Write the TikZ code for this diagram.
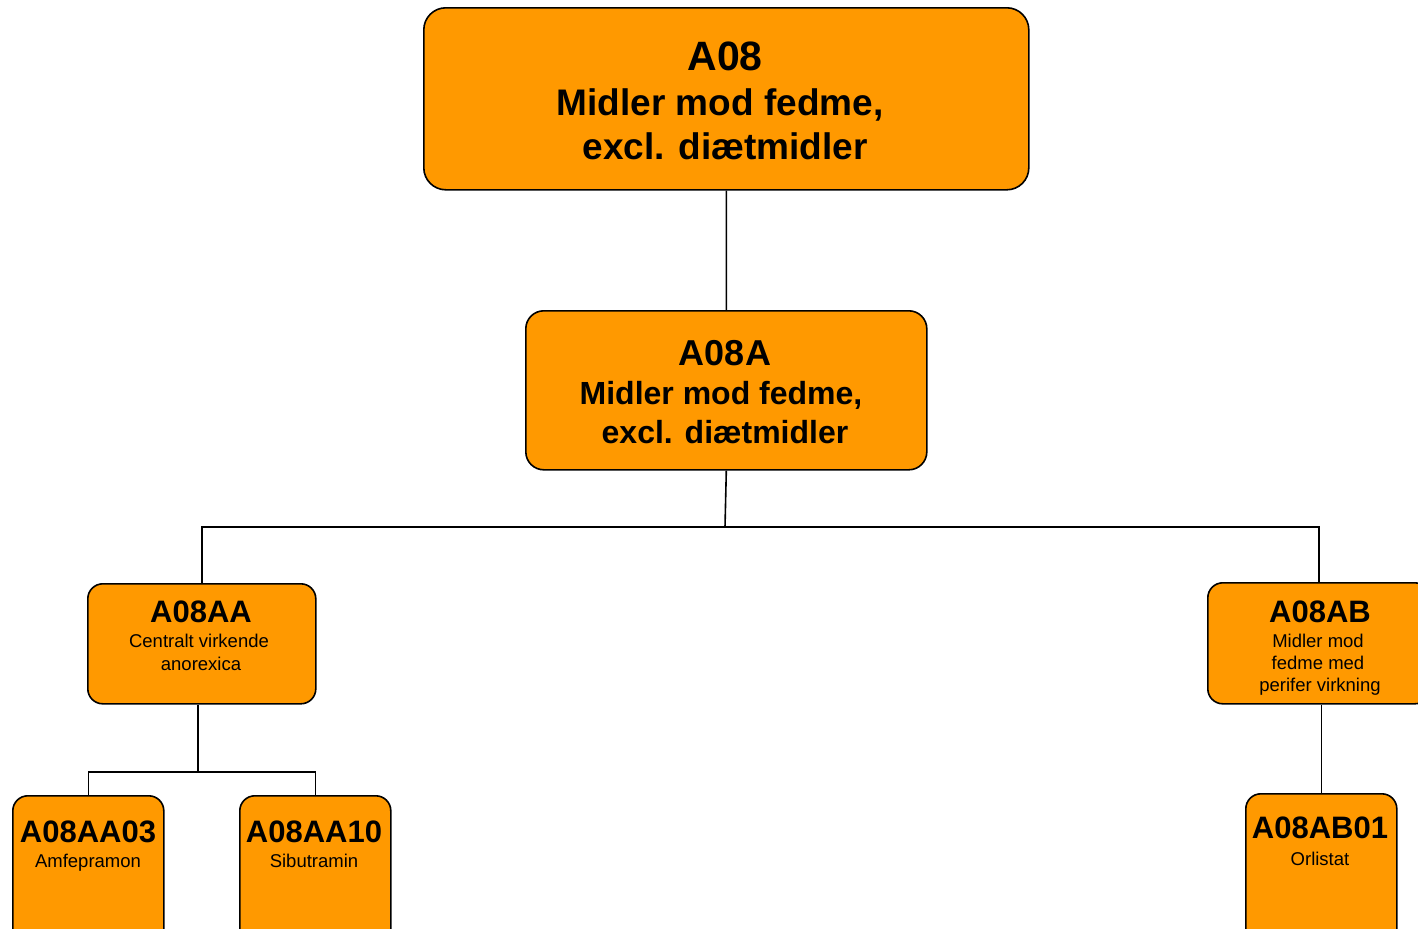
\documentclass[tikz,border=0pt]{standalone}
\usepackage{fontspec}
\setmainfont{Liberation Sans}
\definecolor{boxorange}{RGB}{255,153,0}
\tikzset{
  box/.style={draw=black, line width=1.6bp, fill=boxorange, inner sep=0pt, anchor=north west},
  conn/.style={draw=black, line width=1.6bp},
  ttl/.style={anchor=base, inner sep=0pt, font=\bfseries},
  sub/.style={anchor=base, inner sep=0pt, font=\fontsize{18.5bp}{22bp}\selectfont},
}
\begin{document}
\begin{tikzpicture}[x=1bp,y=-1bp]
\useasboundingbox (0,0) rectangle (1418,928);
\clip (0,0) rectangle (1418,928);
% boxes
\node[box, rounded corners=22bp, minimum width=605bp, minimum height=182bp] (a08) at (423,7) {};
\node[box, rounded corners=18bp, minimum width=401bp, minimum height=159bp] (a08a) at (525,310) {};
\node[box, rounded corners=15bp, minimum width=228bp, minimum height=120bp] (a08aa) at (87,583) {};
\node[box, rounded corners=15bp, minimum width=222bp, minimum height=121bp] (a08ab) at (1207,582) {};
\node[box, rounded corners=15bp, minimum width=151bp, minimum height=170bp] (a03) at (12,795) {};
\node[box, rounded corners=15bp, minimum width=151bp, minimum height=170bp] (a10) at (239,795) {};
\node[box, rounded corners=15bp, minimum width=151bp, minimum height=170bp] (ab01) at (1245,793) {};
% connectors
\draw[conn] (a08.south) -- (a08a.north);
\coordinate (j1) at (725,527);
\draw[conn] (a08a.south) -- (j1);
\draw[conn] (a08aa.north) |- (j1) -| (a08ab.north);
\coordinate (j2) at (198,772);
\draw[conn] (a08aa.south -| j2) -- (j2);
\draw[conn] (a03.north) |- (j2) -| (a10.north);
\draw[conn] (ab01.north |- a08ab.south) -- (ab01.north);
% texts
\node[ttl, font=\fontsize{41bp}{44bp}\bfseries\selectfont] (t1) at (725,70) {A08};
\node[ttl, font=\fontsize{37bp}{44bp}\bfseries\selectfont] (t2) at (720,115) {Midler mod fedme,};
\node[ttl, font=\fontsize{37bp}{44bp}\bfseries\selectfont] (t3) at (725,159) {excl. diætmidler};
\node[ttl, font=\fontsize{36bp}{40bp}\bfseries\selectfont] (u1) at (725,365) {A08A};
\node[ttl, font=\fontsize{32bp}{40bp}\bfseries\selectfont] (u2) at (721,404) {Midler mod fedme,};
\node[ttl, font=\fontsize{32bp}{40bp}\bfseries\selectfont] (u3) at (725,443) {excl. diætmidler};
\node[ttl, font=\fontsize{31bp}{36bp}\bfseries\selectfont] (v1) at (201,622) {A08AA};
\node[sub] (v2) at (199,647) {Centralt virkende};
\node[sub] (v3) at (201,670) {anorexica};
\node[ttl, font=\fontsize{31bp}{36bp}\bfseries\selectfont] (w1) at (1320,622) {A08AB};
\node[sub] (w2) at (1318,647) {Midler mod};
\node[sub] (w3) at (1318,669) {fedme med};
\node[sub] (w4) at (1320,691) {perifer virkning};
\node[ttl, font=\fontsize{31bp}{36bp}\bfseries\selectfont] (x1) at (88,842) {A08AA03};
\node[sub] (x2) at (88,867) {Amfepramon};
\node[ttl, font=\fontsize{31bp}{36bp}\bfseries\selectfont] (y1) at (314,842) {A08AA10};
\node[sub] (y2) at (314,867) {Sibutramin};
\node[ttl, font=\fontsize{31bp}{36bp}\bfseries\selectfont] (z1) at (1320,838) {A08AB01};
\node[sub] (z2) at (1320,865) {Orlistat};
\end{tikzpicture}
\end{document}
